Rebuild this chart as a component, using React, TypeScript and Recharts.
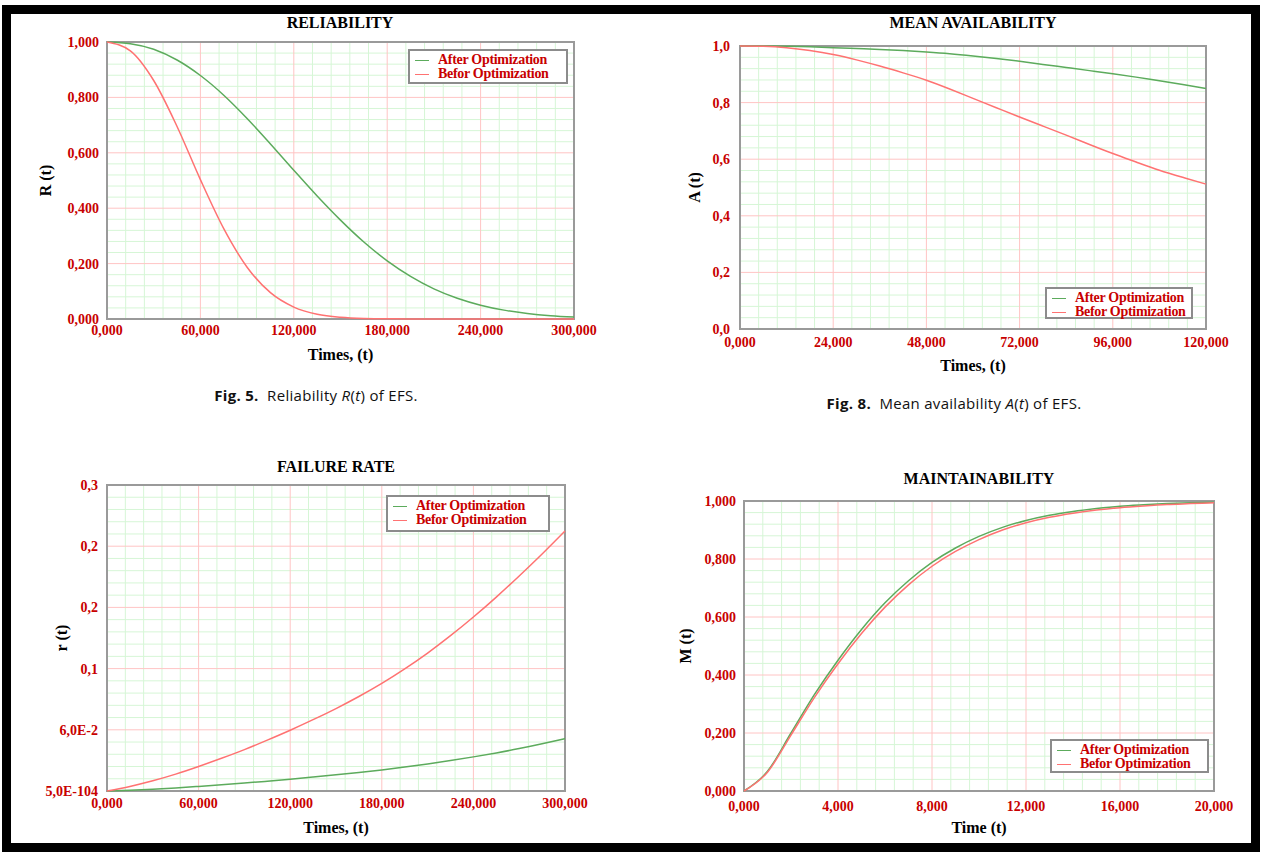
import React from "react";
import { LineChart, Line, XAxis, YAxis, CartesianGrid, Legend, ReferenceArea, Label } from "recharts";

const SERIF = '"Liberation Serif", "Times New Roman", serif';
const TICK_RED = "#c80000";
const GREEN = "#5cab5c";
const RED = "#ff7272";
const MAJOR_GRID = "#ffc4c4";
const MINOR_GRID = "#d6f6d6";

const seriesNames = ["After Optimization", "Befor Optimization"];

// Reliability R(t)
const relTime = [0, 15000, 30000, 45000, 60000, 75000, 90000, 105000, 120000, 135000, 150000, 165000, 180000, 195000, 210000, 225000, 240000, 255000, 270000, 285000, 300000];
const relAfter = [1.0, 0.994, 0.974, 0.935, 0.879, 0.808, 0.724, 0.632, 0.537, 0.444, 0.357, 0.278, 0.21, 0.154, 0.109, 0.075, 0.05, 0.032, 0.02, 0.012, 0.007];
const relBefore = [1.0, 0.968, 0.861, 0.695, 0.503, 0.326, 0.187, 0.095, 0.043, 0.017, 0.006, 0.002, 0.001, 0, 0, 0, 0, 0, 0, 0, 0];
const relXTicks = [0, 60000, 120000, 180000, 240000, 300000];
const relXLabels = ["0,000", "60,000", "120,000", "180,000", "240,000", "300,000"];
const relYTicks = [0, 0.2, 0.4, 0.6, 0.8, 1];
const relYLabels = ["0,000", "0,200", "0,400", "0,600", "0,800", "1,000"];

// Mean availability A(t)
const avTime = [0, 6000, 12000, 18000, 24000, 30000, 36000, 42000, 48000, 54000, 60000, 66000, 72000, 78000, 84000, 90000, 96000, 102000, 108000, 114000, 120000];
const avAfter = [1.0, 1.0, 0.999, 0.997, 0.994, 0.991, 0.988, 0.984, 0.979, 0.973, 0.965, 0.956, 0.946, 0.935, 0.924, 0.913, 0.902, 0.89, 0.877, 0.864, 0.85];
const avBefore = [1.0, 0.999, 0.994, 0.984, 0.97, 0.951, 0.929, 0.905, 0.879, 0.848, 0.815, 0.782, 0.749, 0.717, 0.685, 0.652, 0.62, 0.59, 0.561, 0.536, 0.512];
const avXTicks = [0, 24000, 48000, 72000, 96000, 120000];
const avXLabels = ["0,000", "24,000", "48,000", "72,000", "96,000", "120,000"];
const avYTicks = [0, 0.2, 0.4, 0.6, 0.8, 1];
const avYLabels = ["0,0", "0,2", "0,4", "0,6", "0,8", "1,0"];

// Failure rate r(t)
const rateTime = [0, 15000, 30000, 45000, 60000, 75000, 90000, 105000, 120000, 135000, 150000, 165000, 180000, 195000, 210000, 225000, 240000, 255000, 270000, 285000, 300000];
const rateAfter = [0.0005, 0.0013, 0.0023, 0.0035, 0.005, 0.0066, 0.0083, 0.0101, 0.012, 0.0141, 0.0163, 0.0186, 0.0211, 0.0239, 0.027, 0.0303, 0.0339, 0.0378, 0.042, 0.0467, 0.0518];
const rateBefore = [0.0005, 0.005, 0.0105, 0.017, 0.0245, 0.0325, 0.041, 0.0503, 0.06, 0.0703, 0.0812, 0.093, 0.1058, 0.12, 0.1355, 0.1525, 0.1708, 0.1903, 0.211, 0.2325, 0.255];
const rateXTicks = [0, 60000, 120000, 180000, 240000, 300000];
const rateXLabels = ["0,000", "60,000", "120,000", "180,000", "240,000", "300,000"];
const rateYTicks = [0.0005, 0.0604, 0.1203, 0.1802, 0.2401, 0.3];
const rateYLabels = ["5,0E-104", "6,0E-2", "0,1", "0,2", "0,2", "0,3"];

// Maintainability M(t)
const mTime = [0, 1000, 2000, 3000, 4000, 5000, 6000, 7000, 8000, 9000, 10000, 11000, 12000, 13000, 14000, 15000, 16000, 17000, 18000, 19000, 20000];
const mAfter = [0, 0.068, 0.2, 0.333, 0.451, 0.557, 0.649, 0.725, 0.788, 0.838, 0.878, 0.909, 0.933, 0.951, 0.964, 0.974, 0.982, 0.987, 0.991, 0.994, 0.996];
const mBefore = [0, 0.065, 0.193, 0.323, 0.439, 0.543, 0.634, 0.711, 0.775, 0.826, 0.867, 0.9, 0.925, 0.944, 0.958, 0.969, 0.977, 0.983, 0.988, 0.991, 0.994];
const mXTicks = [0, 4000, 8000, 12000, 16000, 20000];
const mXLabels = ["0,000", "4,000", "8,000", "12,000", "16,000", "20,000"];
const mYTicks = [0, 0.2, 0.4, 0.6, 0.8, 1];
const mYLabels = ["0,000", "0,200", "0,400", "0,600", "0,800", "1,000"];

function buildRows(time: number[], after: number[], before: number[]) {
  return time.map((t, i) => ({ t, after: after[i], before: before[i] }));
}

// 5 minor divisions between each pair of major ticks
function minorSteps(ticks: number[], parts = 5) {
  const out: number[] = [];
  for (let i = 0; i < ticks.length - 1; i++) {
    const step = (ticks[i + 1] - ticks[i]) / parts;
    for (let k = 1; k < parts; k++) out.push(ticks[i] + step * k);
  }
  return out;
}

const makeLegend = (w: number, h: number) => (props: any) => {
  const items = props.payload ?? [];
  return (
    <div
      style={{
        width: w,
        height: h,
        boxSizing: "border-box",
        border: "2px solid #8c8c8c",
        background: "#fff",
        padding: "2px 0 0 5px",
      }}
    >
      {items.map((it: any) => (
        <div key={it.value} style={{ display: "flex", alignItems: "center", height: 14 }}>
          <span style={{ display: "inline-block", width: 14, borderTop: `1.5px solid ${it.color}`, marginRight: 9 }} />
          <span style={{ color: TICK_RED, font: `bold 14px ${SERIF}`, whiteSpace: "nowrap", letterSpacing: -0.3 }}>
            {it.value}
          </span>
        </div>
      ))}
    </div>
  );
};

interface PanelProps {
  left: number;
  top: number;
  width: number;
  height: number;
  marginTop: number;
  yAxisWidth: number;
  curve: "monotone" | "natural";
  rows: { t: number; after: number; before: number }[];
  xTicks: number[];
  xLabels: string[];
  yTicks: number[];
  yLabels: string[];
  xTitle: string;
  yTitle: string;
  xTickMargin: number;
  yTickMargin: number;
  xTitleOffset: number;
  yTitleOffset: number;
  legend: { x: number; y: number; w: number; h: number };
}

const RIGHT_PAD = 30;

function Panel(p: PanelProps) {
  const xDomain = [p.xTicks[0], p.xTicks[p.xTicks.length - 1]];
  const yDomain = [p.yTicks[0], p.yTicks[p.yTicks.length - 1]];
  const tickStyle = { fill: TICK_RED, fontSize: 14, fontWeight: 700, fontFamily: SERIF };
  return (
    <div style={{ position: "absolute", left: p.left, top: p.top }}>
      <LineChart width={p.width} height={p.height} data={p.rows} margin={{ top: p.marginTop, right: RIGHT_PAD, bottom: 0, left: 0 }}>
        <CartesianGrid stroke={MINOR_GRID} verticalValues={minorSteps(p.xTicks)} horizontalValues={minorSteps(p.yTicks)} />
        <CartesianGrid stroke={MAJOR_GRID} />
        <XAxis
          dataKey="t"
          type="number"
          domain={xDomain}
          ticks={p.xTicks}
          interval={0}
          tickFormatter={(v: number) => p.xLabels[p.xTicks.indexOf(v)]}
          tick={tickStyle}
          tickSize={0}
          tickMargin={p.xTickMargin}
          axisLine={false}
          height={50}
        >
          <Label value={p.xTitle} position="insideBottom" offset={p.xTitleOffset} fill="#000" fontSize={16} fontWeight={700} fontFamily={SERIF} />
        </XAxis>
        <YAxis
          type="number"
          domain={yDomain}
          ticks={p.yTicks}
          interval={0}
          tickFormatter={(v: number) => p.yLabels[p.yTicks.indexOf(v)]}
          tick={tickStyle}
          tickSize={0}
          tickMargin={p.yTickMargin}
          axisLine={false}
          width={p.yAxisWidth}
        >
          <Label
            value={p.yTitle}
            position="insideLeft"
            angle={-90}
            offset={p.yTitleOffset}
            style={{ textAnchor: "middle" }}
            fill="#000"
            fontSize={16}
            fontWeight={700}
            fontFamily={SERIF}
          />
        </YAxis>
        <ReferenceArea x1={xDomain[0]} x2={xDomain[1]} y1={yDomain[0]} y2={yDomain[1]} fill="none" stroke="#9a9a9a" strokeWidth={2} />
        <Line type={p.curve} dataKey="after" name={seriesNames[0]} stroke={GREEN} strokeWidth={1.5} dot={false} isAnimationActive={false} />
        <Line type={p.curve} dataKey="before" name={seriesNames[1]} stroke={RED} strokeWidth={1.5} dot={false} isAnimationActive={false} />
        <Legend
          layout="vertical"
          align="center"
          verticalAlign="middle"
          content={makeLegend(p.legend.w, p.legend.h)}
          wrapperStyle={{ left: p.legend.x, top: p.legend.y, width: p.legend.w, height: p.legend.h }}
        />
      </LineChart>
    </div>
  );
}

const titleStyle = (cx: number, cy: number): React.CSSProperties => ({
  position: "absolute",
  left: cx - 150,
  top: cy - 10,
  width: 300,
  textAlign: "center",
  font: `bold 16px ${SERIF}`,
  color: "#000",
  lineHeight: "20px",
});

const captionStyle = (cx: number, cy: number): React.CSSProperties => ({
  position: "absolute",
  left: cx - 200,
  top: cy - 11,
  width: 400,
  textAlign: "center",
  font: '15px "Open Sans", "DejaVu Sans", sans-serif',
  color: "#111",
  lineHeight: "22px",
  letterSpacing: 0.3,
});

export default function App() {
  return (
    <div style={{ position: "absolute", left: 0, top: 0, width: 1266, height: 856, background: "#fff", overflow: "hidden" }}>
      <div
        style={{
          position: "absolute",
          left: 2,
          top: 5,
          width: 1258,
          height: 847,
          border: "9px solid #000",
          boxSizing: "border-box",
          background: "#fff",
        }}
      />

      <div style={titleStyle(340, 23)}>RELIABILITY</div>
      <Panel
        left={15}
        top={30}
        width={589}
        height={339}
        marginTop={12}
        yAxisWidth={92}
        curve="monotone"
        rows={buildRows(relTime, relAfter, relBefore)}
        xTicks={relXTicks}
        xLabels={relXLabels}
        yTicks={relYTicks}
        yLabels={relYLabels}
        xTitle="Times, (t)"
        yTitle="R (t)"
        xTickMargin={6}
        yTickMargin={8}
        xTitleOffset={9}
        yTitleOffset={30}
        legend={{ x: 393, y: 19, w: 160, h: 35 }}
      />
      <div style={captionStyle(316, 395)}>
        <b>Fig. 5.</b>&nbsp; Reliability <i>R</i>(<i>t</i>) of EFS.
      </div>

      <div style={titleStyle(973, 23)}>MEAN AVAILABILITY</div>
      <Panel
        left={650}
        top={30}
        width={586}
        height={349}
        marginTop={16}
        yAxisWidth={90}
        curve="natural"
        rows={buildRows(avTime, avAfter, avBefore)}
        xTicks={avXTicks}
        xLabels={avXLabels}
        yTicks={avYTicks}
        yLabels={avYLabels}
        xTitle="Times, (t)"
        yTitle="A (t)"
        xTickMargin={8}
        yTickMargin={10}
        xTitleOffset={8}
        yTitleOffset={44}
        legend={{ x: 395, y: 257, w: 148, h: 32 }}
      />
      <div style={captionStyle(954, 403)}>
        <b>Fig. 8.</b>&nbsp; Mean availability <i>A</i>(<i>t</i>) of EFS.
      </div>

      <div style={titleStyle(336, 467)}>FAILURE RATE</div>
      <Panel
        left={15}
        top={470}
        width={580}
        height={371}
        marginTop={15}
        yAxisWidth={92}
        curve="natural"
        rows={buildRows(rateTime, rateAfter, rateBefore)}
        xTicks={rateXTicks}
        xLabels={rateXLabels}
        yTicks={rateYTicks}
        yLabels={rateYLabels}
        xTitle="Times, (t)"
        yTitle="r (t)"
        xTickMargin={7}
        yTickMargin={9}
        xTitleOffset={8}
        yTitleOffset={46}
        legend={{ x: 371, y: 25, w: 164, h: 37 }}
      />

      <div style={titleStyle(979, 479)}>MAINTAINABILITY</div>
      <Panel
        left={650}
        top={470}
        width={594}
        height={371}
        marginTop={31}
        yAxisWidth={94}
        curve="monotone"
        rows={buildRows(mTime, mAfter, mBefore)}
        xTicks={mXTicks}
        xLabels={mXLabels}
        yTicks={mYTicks}
        yLabels={mYLabels}
        xTitle="Time (t)"
        yTitle="M (t)"
        xTickMargin={10}
        yTickMargin={8}
        xTitleOffset={8}
        yTitleOffset={35}
        legend={{ x: 400, y: 269, w: 159, h: 34 }}
      />
    </div>
  );
}
